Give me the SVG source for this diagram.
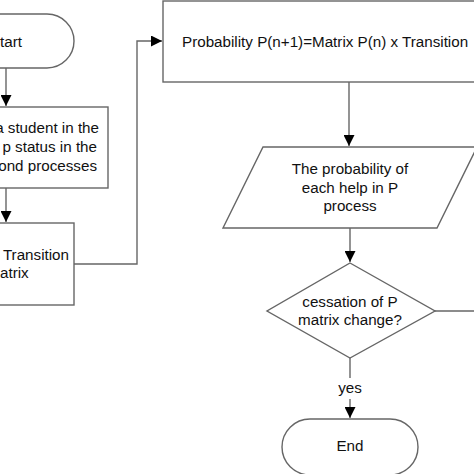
<svg xmlns="http://www.w3.org/2000/svg" width="474" height="474" viewBox="0 0 474 474">
<defs>
<style>
.shape{fill:#fff;stroke:#666;stroke-width:1.4}
.edge{fill:none;stroke:#666;stroke-width:1.4}
text{font-family:"Liberation Sans",Arial,sans-serif;font-size:15.2px;fill:#111}
.c{text-anchor:middle}
.e{text-anchor:end}
</style>
<marker id="arr" markerUnits="userSpaceOnUse" markerWidth="11" markerHeight="11" viewBox="0 0 10 10" refX="10" refY="5" orient="auto">
<path d="M0,0 L10,5 L0,10 Z" fill="#000"/>
</marker>
</defs>
<rect width="474" height="474" fill="#fff"/>
<g id="connectors">
<path class="edge" d="M6,68 V106" marker-end="url(#arr)"/>
<path class="edge" d="M6,188 V222" marker-end="url(#arr)"/>
<path class="edge" d="M74,264 H137 V41 H162" marker-end="url(#arr)"/>
<path class="edge" d="M349,82 V146" marker-end="url(#arr)"/>
<path class="edge" d="M350,228 V262" marker-end="url(#arr)"/>
<path class="edge" d="M435,311 H474"/>
<path class="edge" d="M350,358 V378"/>
<path class="edge" d="M350,399 V418" marker-end="url(#arr)"/>
<text class="c" x="350" y="393">yes</text>
</g>
<g id="start">
<path class="shape" d="M-20,14 H47 A27,27 0 0 1 47,68 H-20 Z"/>
<text class="e" x="22" y="47">tart</text>
</g>
<g id="identify">
<rect class="shape" x="-20" y="107" width="128" height="81"/>
<text class="e" x="99" y="133">a student in the</text>
<text class="e" x="97" y="152">p status in the</text>
<text class="e" x="97" y="171">ond processes</text>
</g>
<g id="transition">
<rect class="shape" x="-20" y="223" width="94" height="82"/>
<text class="e" x="69" y="260">Transition</text>
<text x="0" y="278">atrix</text>
</g>
<g id="probability">
<rect class="shape" x="163" y="1" width="330" height="81"/>
<text x="182" y="47">Probability P(n+1)=Matrix P(n) x Transition</text>
</g>
<g id="output">
<path class="shape" d="M263,147 H477 L437,228 H223 Z"/>
<text class="c" x="350" y="174">The probability of</text>
<text class="c" x="350" y="193">each help in P</text>
<text class="c" x="350" y="211">process</text>
</g>
<g id="decision">
<path class="shape" d="M350,263 L435,311 L350,358 L267,311 Z"/>
<text class="c" x="350" y="307">cessation of P</text>
<text class="c" x="350" y="325">matrix change?</text>
</g>
<g id="end">
<path class="shape" d="M310,419 H390 A28,28 0 0 1 390,475 H310 A28,28 0 0 1 310,419 Z"/>
<text class="c" x="350" y="451">End</text>
</g>
</svg>
